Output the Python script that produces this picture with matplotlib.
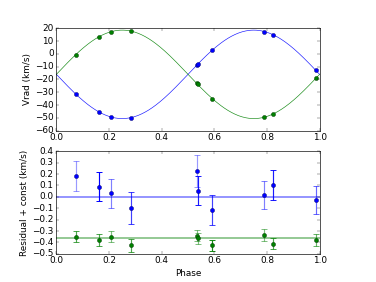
import numpy as np
import matplotlib
matplotlib.use('Agg')
import matplotlib.pyplot as plt

plt.style.use('classic')
plt.rcParams['font.size'] = 13.5

# orbit solution (circular)
gamma = -16.0
K1 = 34.5
K2 = 34.5

# observations
phase = [0.073, 0.162, 0.207, 0.283, 0.533, 0.537, 0.592, 0.790, 0.823, 0.985]
vrad1 = [-31.3, -45.4, -49.2, -49.8, -8.9, -8.1, 3.0, 17.4, 14.9, -12.8]
vrad2 = [-0.7, 13.4, 17.2, 17.8, -23.1, -23.9, -35.0, -49.4, -46.9, -19.2]

# residuals (km/s) and errors
res1 = [0.185, 0.09, 0.03, -0.10, 0.23, 0.055, -0.115, 0.015, 0.105, -0.03]
err1 = [0.13, 0.125, 0.125, 0.14, 0.14, 0.13, 0.135, 0.125, 0.13, 0.125]
res2 = [-0.35, -0.38, -0.35, -0.425, -0.34, -0.365, -0.425, -0.335, -0.41, -0.38]
err2 = [0.05, 0.05, 0.05, 0.055, 0.05, 0.05, 0.05, 0.05, 0.05, 0.05]
offset2 = -0.365

# relative weights (shown as error bar opacity)
w1 = [0.4, 1.0, 0.5, 0.75, 0.4, 0.9, 0.75, 0.5, 0.9, 0.6]
w2 = [0.7, 0.7, 0.5, 0.7, 0.5, 0.5, 0.9, 0.5, 0.7, 0.6]

fig = plt.figure(figsize=(8, 6), dpi=47)
fig.subplots_adjust(left=0.15, right=0.85)

# top: radial velocities with model
ax1 = fig.add_subplot(2, 1, 1)
ph = np.linspace(0, 1, 300)
ax1.plot(ph, gamma - K1 * np.sin(2 * np.pi * ph), 'b-', alpha=0.9)
ax1.plot(ph, gamma + K2 * np.sin(2 * np.pi * ph), 'g-', alpha=0.9)
ax1.plot(phase, vrad1, 'bo', ms=6.5, mec='#000040', mew=0.5)
ax1.plot(phase, vrad2, 'go', ms=6.5, mec='#002000', mew=0.5)
ax1.set_xlim(0, 1)
ax1.set_ylim(-60, 20)
ax1.set_ylabel('Vrad (km/s)')

# bottom: residuals
ax2 = fig.add_subplot(2, 1, 2)
ax2.axhline(0.0, color='b', lw=2.5, alpha=0.5)
ax2.axhline(offset2, color='g', lw=2.5, alpha=0.5)
for i in range(len(phase)):
    ax2.errorbar(phase[i], res1[i], yerr=err1[i], fmt='none', ecolor='b',
                 capsize=4, alpha=w1[i], lw=1.8, mew=1.5)
    ax2.errorbar(phase[i], res2[i], yerr=err2[i], fmt='none', ecolor='g',
                 capsize=4, alpha=w2[i], lw=1.8, mew=1.5)
ax2.plot(phase, res1, 'bo', ms=6.5, mec='#000040', mew=0.5)
ax2.plot(phase, res2, 'go', ms=6.5, mec='#002000', mew=0.5)
ax2.set_xlim(0, 1)
ax2.set_ylim(-0.5, 0.4)
ax2.set_xlabel('Phase')
ax2.set_ylabel('Residual + const (km/s)')

fig.savefig('out.png', dpi=47)
